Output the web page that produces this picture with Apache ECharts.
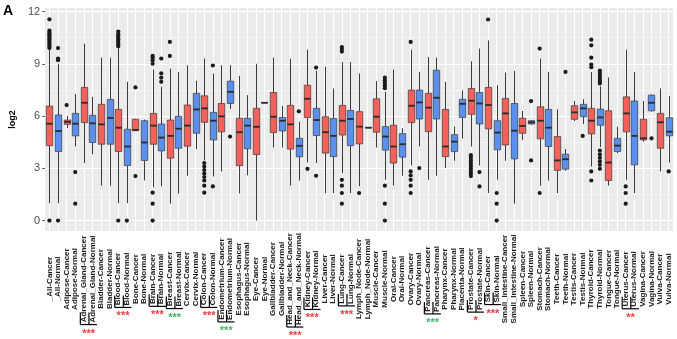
<!DOCTYPE html>
<html>
<head>
<meta charset="utf-8">
<script src="https://cdn.jsdelivr.net/npm/echarts@6/dist/echarts.min.js"></script>
<style>
  html, body { margin: 0; padding: 0; background: #fff; }
  #chart { width: 677px; height: 339px; }
</style>
</head>
<body>
<div id="chart"></div>
<script>
const categories = [
  '_All-Cancer', '_All-Normal', 'Adipose-Cancer', 'Adipose-Normal',
  'Adrenal_Gland-Cancer', 'Adrenal_Gland-Normal', 'Bladder-Cancer', 'Bladder-Normal',
  'Blood-Cancer', 'Blood-Normal', 'Bone-Cancer', 'Bone-Normal',
  'Brain-Cancer', 'Brain-Normal', 'Breast-Cancer', 'Breast-Normal',
  'Cervix-Cancer', 'Cervix-Normal', 'Colon-Cancer', 'Colon-Normal',
  'Endometrium-Cancer', 'Endometrium-Normal', 'Esophagus-Cancer', 'Esophagus-Normal',
  'Eye-Cancer', 'Eye-Normal', 'Gallbladder-Cancer', 'Gallbladder-Normal',
  'Head_and_Neck-Cancer', 'Head_and_Neck-Normal', 'Kidney-Cancer', 'Kidney-Normal',
  'Liver-Cancer', 'Liver-Normal', 'Lung-Cancer', 'Lung-Normal',
  'Lymph_Node-Cancer', 'Lymph_Node-Normal', 'Muscle-Cancer', 'Muscle-Normal',
  'Oral-Cancer', 'Oral-Normal', 'Ovary-Cancer', 'Ovary-Normal',
  'Pancreas-Cancer', 'Pancreas-Normal', 'Pharynx-Cancer', 'Pharynx-Normal',
  'Placenta-Normal', 'Prostate-Cancer', 'Prostate-Normal', 'Skin-Cancer',
  'Skin-Normal', 'Small_Intestine-Cancer', 'Small_Intestine-Normal', 'Spleen-Cancer',
  'Spleen-Normal', 'Stomach-Cancer', 'Stomach-Normal', 'Teeth-Cancer',
  'Teeth-Normal', 'Testis-Cancer', 'Testis-Normal', 'Thyroid-Cancer',
  'Thyroid-Normal', 'Tongue-Cancer', 'Tongue-Normal', 'Uterus-Cancer',
  'Uterus-Normal', 'Vagina-Cancer', 'Vagina-Normal', 'Vulva-Cancer', 'Vulva-Normal'
];

// box stats, one entry per category
const lowWhisker = [
  1.0, 1.0, 5.3, 4.25, 3.3, 3.81, 2.0, 2.0, 1.0, 1.0, 5.14, 2.3,
  1.9, 1.96, 0.97, 1.54, 2.57, 4.1, 3.45, 2.53, 2.82, 6.4, 1.56, 2.6,
  0.0, 6.76, 4.19, 4.19, 2.0, 2.29, 3.33, 3.3, 1.58, 1.58, 2.72, 1.58,
  1.96, 5.33, 4.19, 2.34, 2.0, 2.57, 3.16, 4.25, 2.34, 2.57, 3.01, 3.43,
  4.7, 4.25, 3.16, 1.58, 2.34, 3.43, 0.97, 4.63, 5.5, 2.0, 2.29, 1.58,
  2.86, 5.71, 5.54, 3.1, 4.21, 2.0, 3.87, 2.34, 1.58, 4.53, 6.25, 2.82, 3.33
];
const q1 = [
  4.3, 3.96, 5.52, 4.86, 5.62, 4.48, 4.38, 4.38, 3.96, 3.16, 5.16, 3.45,
  4.38, 4.0, 3.58, 4.15, 4.27, 5.01, 5.64, 4.63, 5.09, 6.72, 3.15, 4.12,
  3.79, 6.76, 5.05, 5.14, 4.1, 3.66, 5.92, 4.88, 3.87, 3.67, 4.91, 4.3,
  4.4, 5.33, 5.07, 4.04, 3.3, 3.64, 5.62, 5.83, 5.1, 5.83, 3.67, 3.96,
  5.92, 6.1, 5.54, 5.26, 4.06, 4.34, 3.54, 5.01, 5.54, 4.69, 4.25, 2.88,
  2.95, 5.81, 5.96, 4.97, 5.47, 2.3, 3.96, 5.09, 3.2, 4.63, 6.3, 4.15, 4.86
];
const median = [
  5.56, 5.14, 5.66, 5.56, 6.76, 5.58, 5.52, 5.89, 5.33, 4.25, 5.2, 4.48,
  5.45, 4.76, 4.86, 5.27, 5.45, 6.38, 6.44, 5.73, 5.98, 7.39, 5.07, 5.45,
  5.38, 6.76, 5.96, 5.73, 5.52, 4.29, 6.99, 5.77, 5.07, 4.86, 5.73, 5.83,
  5.39, 5.33, 5.96, 4.82, 4.25, 4.38, 6.59, 6.78, 6.48, 7.05, 4.25, 4.53,
  6.7, 6.88, 6.72, 6.63, 5.05, 6.15, 5.16, 5.43, 5.64, 5.73, 5.33, 3.45,
  3.52, 6.21, 6.44, 5.73, 5.92, 3.33, 4.3, 6.15, 4.86, 4.72, 6.76, 5.64, 5.1
];
const q3 = [
  6.57, 6.06, 5.77, 6.15, 7.64, 6.04, 6.67, 6.95, 6.38, 5.24, 5.81, 5.73,
  6.15, 5.54, 5.77, 5.98, 6.63, 7.3, 7.16, 6.21, 6.72, 8.0, 5.87, 5.87,
  6.44, 6.76, 7.35, 5.92, 6.61, 4.72, 7.77, 6.44, 5.96, 5.85, 6.61, 6.32,
  6.25, 5.33, 6.99, 5.39, 5.47, 4.99, 7.49, 7.49, 7.3, 8.63, 6.38, 4.93,
  6.96, 7.58, 7.35, 7.64, 5.73, 7.01, 6.72, 5.87, 5.73, 6.53, 6.38, 4.82,
  3.81, 6.59, 6.67, 6.44, 6.4, 6.3, 4.72, 7.1, 6.86, 5.81, 7.2, 6.15, 5.9
];
const highWhisker = [
  9.8, 9.0, 6.0, 7.26, 10.15, 7.1, 9.35, 9.35, 9.9, 7.96, 5.85, 5.8,
  8.67, 7.68, 8.72, 8.53, 8.91, 8.02, 9.3, 8.44, 8.91, 8.91, 8.3, 7.2,
  9.0, 6.76, 9.35, 6.57, 9.28, 5.67, 9.81, 8.59, 8.82, 7.58, 9.1, 9.1,
  8.44, 5.33, 8.0, 7.39, 8.67, 5.3, 9.81, 8.53, 9.39, 9.35, 7.96, 5.39,
  7.47, 9.14, 9.87, 10.34, 7.77, 8.5, 8.59, 6.29, 5.78, 9.3, 8.53, 6.38,
  4.11, 6.86, 6.97, 8.53, 7.7, 8.21, 5.39, 9.81, 8.53, 6.86, 7.24, 7.58, 7.14
];

// outliers: [category, log2 value]
const outliers = [
  ['_All-Cancer', 9.9], ['_All-Cancer', 10.0], ['_All-Cancer', 10.1], ['_All-Cancer', 10.2],
  ['_All-Cancer', 10.3], ['_All-Cancer', 10.4], ['_All-Cancer', 10.5], ['_All-Cancer', 10.6],
  ['_All-Cancer', 10.7], ['_All-Cancer', 10.8], ['_All-Cancer', 10.9], ['_All-Cancer', 11.55],
  ['_All-Cancer', 0],
  ['_All-Normal', 9.2], ['_All-Normal', 9.3], ['_All-Normal', 9.9], ['_All-Normal', 0],
  ['Adipose-Cancer', 6.63],
  ['Adipose-Normal', 2.78], ['Adipose-Normal', 0.97],
  ['Blood-Cancer', 10.0], ['Blood-Cancer', 10.1], ['Blood-Cancer', 10.2], ['Blood-Cancer', 10.3],
  ['Blood-Cancer', 10.4], ['Blood-Cancer', 10.5], ['Blood-Cancer', 10.6], ['Blood-Cancer', 10.7],
  ['Blood-Cancer', 10.85], ['Blood-Cancer', 0],
  ['Blood-Normal', 0],
  ['Bone-Cancer', 7.64], ['Bone-Cancer', 2.55],
  ['Brain-Cancer', 9.0], ['Brain-Cancer', 9.2], ['Brain-Cancer', 9.35], ['Brain-Cancer', 9.45],
  ['Brain-Cancer', 1.6], ['Brain-Cancer', 0.97], ['Brain-Cancer', 0],
  ['Brain-Normal', 9.3], ['Brain-Normal', 7.96], ['Brain-Normal', 8.2], ['Brain-Normal', 8.45],
  ['Breast-Cancer', 10.25], ['Breast-Cancer', 9.45],
  ['Colon-Cancer', 3.3], ['Colon-Cancer', 3.1], ['Colon-Cancer', 2.9], ['Colon-Cancer', 2.7],
  ['Colon-Cancer', 2.5], ['Colon-Cancer', 2.3], ['Colon-Cancer', 2.0], ['Colon-Cancer', 1.6],
  ['Colon-Normal', 8.9], ['Colon-Normal', 1.96],
  ['Endometrium-Normal', 4.82],
  ['Head_and_Neck-Normal', 6.27],
  ['Kidney-Cancer', 2.97],
  ['Kidney-Normal', 8.78], ['Kidney-Normal', 2.57],
  ['Lung-Cancer', 9.7], ['Lung-Cancer', 9.85], ['Lung-Cancer', 9.96], ['Lung-Cancer', 2.34],
  ['Lung-Cancer', 2.0], ['Lung-Cancer', 1.58], ['Lung-Cancer', 0.97],
  ['Lymph_Node-Cancer', 1.58],
  ['Muscle-Normal', 7.6], ['Muscle-Normal', 7.75], ['Muscle-Normal', 7.9], ['Muscle-Normal', 8.05],
  ['Muscle-Normal', 8.2], ['Muscle-Normal', 2.0], ['Muscle-Normal', 0.97], ['Muscle-Normal', 0],
  ['Ovary-Cancer', 10.25], ['Ovary-Cancer', 2.82], ['Ovary-Cancer', 2.59], ['Ovary-Cancer', 2.34],
  ['Ovary-Cancer', 2.0], ['Ovary-Cancer', 1.58],
  ['Ovary-Normal', 3.01],
  ['Prostate-Cancer', 3.75], ['Prostate-Cancer', 3.6], ['Prostate-Cancer', 3.45], ['Prostate-Cancer', 3.3],
  ['Prostate-Cancer', 3.15], ['Prostate-Cancer', 3.0], ['Prostate-Cancer', 2.85], ['Prostate-Cancer', 2.7],
  ['Prostate-Cancer', 2.55],
  ['Prostate-Normal', 2.78], ['Prostate-Normal', 1.96],
  ['Skin-Cancer', 11.54],
  ['Skin-Normal', 1.58], ['Skin-Normal', 0.97], ['Skin-Normal', 0],
  ['Spleen-Normal', 6.86], ['Spleen-Normal', 3.45],
  ['Stomach-Cancer', 9.87], ['Stomach-Cancer', 1.58],
  ['Teeth-Normal', 8.53],
  ['Testis-Normal', 4.86],
  ['Thyroid-Cancer', 8.8], ['Thyroid-Cancer', 8.95], ['Thyroid-Cancer', 9.35], ['Thyroid-Cancer', 10.06],
  ['Thyroid-Cancer', 10.38], ['Thyroid-Cancer', 2.82], ['Thyroid-Cancer', 2.3],
  ['Thyroid-Normal', 7.87], ['Thyroid-Normal', 8.0], ['Thyroid-Normal', 8.15], ['Thyroid-Normal', 8.3],
  ['Thyroid-Normal', 8.45], ['Thyroid-Normal', 8.6], ['Thyroid-Normal', 4.02], ['Thyroid-Normal', 3.8],
  ['Thyroid-Normal', 3.6], ['Thyroid-Normal', 3.4], ['Thyroid-Normal', 3.2], ['Thyroid-Normal', 2.97],
  ['Uterus-Cancer', 1.96], ['Uterus-Cancer', 1.58], ['Uterus-Cancer', 0.97],
  ['Vagina-Normal', 4.72],
  ['Vulva-Normal', 2.82]
];

const yTicks = [0, 3, 6, 9, 12];
const yMinorTicks = [1.5, 4.5, 7.5, 10.5];

// significance marks under the tick labels
const sigTissues = ['Adrenal_Gland', 'Blood', 'Brain', 'Breast', 'Colon', 'Endometrium',
  'Head_and_Neck', 'Kidney', 'Lung', 'Pancreas', 'Prostate', 'Skin', 'Uterus'];
const sigStars = ['***', '***', '***', '***', '***', '***', '***', '***', '***', '***', '*', '***', '**'];
const sigUp = ['Breast', 'Endometrium', 'Pancreas'];

const RED = '#F5605A';
const BLUE = '#5B8FEE';
const LABEL_FONT = 'bold 8px "Liberation Sans", Arial, sans-serif';
const LABEL_CENTER = 48;

const boxData = categories.map((c, i) =>
  [i, lowWhisker[i], q1[i], median[i], q3[i], highWhisker[i]]);

// ggplot-like box: whiskers without caps, thick median
function renderBox(params, api) {
  const idx = api.value(0);
  const x = Math.round(api.coord([idx, 0])[0]) + 0.5;
  const w = api.size([1, 0])[0] * 0.75;
  const y = [1, 2, 3, 4, 5].map(k => api.coord([idx, api.value(k)])[1]);
  const fill = categories[idx].endsWith('-Cancer') ? RED : BLUE;
  const edge = { stroke: '#3c3c3c', lineWidth: 1 };
  return {
    type: 'group',
    children: [
      { type: 'line', shape: { x1: x, y1: y[0], x2: x, y2: y[1] }, style: edge },
      { type: 'line', shape: { x1: x, y1: y[3], x2: x, y2: y[4] }, style: edge },
      { type: 'rect', shape: { x: x - w / 2, y: y[3], width: w, height: y[1] - y[3] },
        style: { fill: fill, stroke: '#3a3a3a', lineWidth: 0.7 } },
      { type: 'line', shape: { x1: x - w / 2, y1: y[2], x2: x + w / 2, y2: y[2] },
        style: { stroke: '#2b2b2b', lineWidth: 1.8 } }
    ]
  };
}

const chart = echarts.init(document.getElementById('chart'));

chart.setOption({
  animation: false,
  backgroundColor: '#fff',
  title: {
    text: 'A', left: 3, top: 4, padding: 0,
    textStyle: { fontSize: 14, fontWeight: 'bold', color: '#000', fontFamily: 'Liberation Sans' }
  },
  grid: {
    left: 41, right: 4, top: 8, bottom: 108,
    show: true, backgroundColor: '#EBEBEB', borderWidth: 0
  },
  xAxis: {
    type: 'category',
    data: categories,
    axisLine: { show: false },
    axisTick: { show: true, alignWithLabel: true, length: 3, lineStyle: { color: '#333', width: 0.8 } },
    axisLabel: {
      interval: 0, rotate: 90, align: 'center', verticalAlign: 'middle',
      margin: LABEL_CENTER, fontSize: 8, fontWeight: 'bold', color: '#1a1a1a',
      fontFamily: 'Liberation Sans'
    },
    splitLine: { show: false }
  },
  yAxis: {
    type: 'value',
    min: -0.6, max: 12.2,
    name: 'log2', nameLocation: 'middle', nameGap: 21, nameRotate: 90,
    nameTextStyle: { fontSize: 9, fontWeight: 'bold', color: '#000', fontFamily: 'Liberation Sans' },
    axisLine: { show: false },
    axisTick: { show: true, customValues: yTicks, length: 3, lineStyle: { color: '#333', width: 0.8 } },
    axisLabel: { customValues: yTicks, fontSize: 11, color: '#4D4D4D', margin: 5, fontFamily: 'Liberation Sans' },
    splitLine: { show: false }
  },
  series: [
    {
      name: 'grid', type: 'line', data: [], z: 1, silent: true,
      markLine: {
        z: 1, silent: true, symbol: 'none', label: { show: false }, animation: false,
        data: [
          ...yMinorTicks.map(v => ({ yAxis: v, lineStyle: { color: '#fff', width: 0.5, type: 'solid' } })),
          ...yTicks.map(v => ({ yAxis: v, lineStyle: { color: '#fff', width: 1.1, type: 'solid' } })),
          ...categories.map(c => ({ xAxis: c, lineStyle: { color: '#fff', width: 1, type: 'solid' } }))
        ]
      }
    },
    {
      name: 'box', type: 'custom', z: 3, silent: true,
      renderItem: renderBox,
      encode: { x: 0, y: [1, 2, 3, 4, 5] },
      data: boxData
    },
    {
      name: 'outlier', type: 'scatter', z: 4, silent: true,
      symbolSize: 4.2,
      itemStyle: { color: '#1a1a1a', opacity: 1 },
      data: outliers
    }
  ]
});

// brackets and stars below the rotated labels
const ctx = document.createElement('canvas').getContext('2d');
ctx.font = LABEL_FONT;
const axisY = 339 - 108;
const graphics = [];
sigTissues.forEach((t, k) => {
  const ca = t + '-Cancer', cb = t + '-Normal';
  const xa = chart.convertToPixel({ xAxisIndex: 0 }, ca);
  const xb = chart.convertToPixel({ xAxisIndex: 0 }, cb);
  const half = Math.max(ctx.measureText(ca).width, ctx.measureText(cb).width) / 2;
  const ly = axisY + LABEL_CENTER + half + 2;
  const lc = { stroke: '#000', lineWidth: 1.2 };
  graphics.push({ type: 'line', shape: { x1: xa - 3.5, y1: ly, x2: xb + 4.5, y2: ly }, style: lc, silent: true });
  graphics.push({ type: 'line', shape: { x1: xa - 3.5, y1: ly - 12, x2: xa - 3.5, y2: ly }, style: lc, silent: true });
  graphics.push({ type: 'line', shape: { x1: xb - 3.5, y1: ly - 12, x2: xb - 3.5, y2: ly }, style: lc, silent: true });
  graphics.push({
    type: 'text', silent: true,
    x: (xa + xb) / 2 + 0.5, y: ly + 9,
    style: {
      text: sigStars[k], fill: sigUp.includes(t) ? '#3DB86A' : '#EE3B43',
      font: 'bold 11px "Liberation Sans", Arial, sans-serif',
      textAlign: 'center', textVerticalAlign: 'middle'
    }
  });
});
chart.setOption({ graphic: graphics });
</script>
</body>
</html>
